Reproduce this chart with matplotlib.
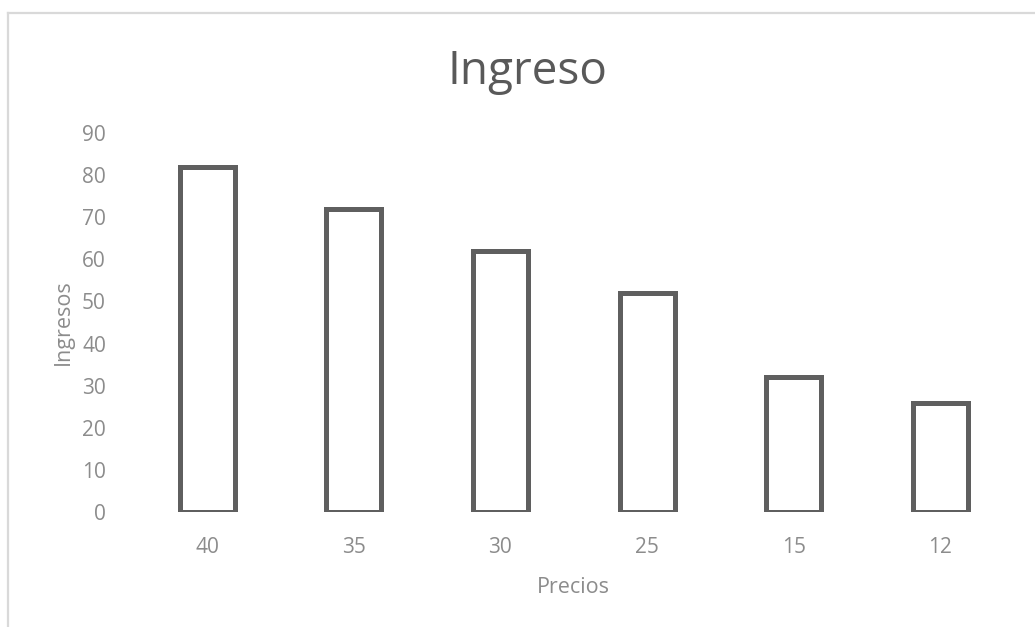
import matplotlib
matplotlib.use("Agg")
import matplotlib.pyplot as plt
from matplotlib.lines import Line2D

plt.rcParams['font.family'] = ['Open Sans', 'DejaVu Sans']

precios = ["40", "35", "30", "25", "15", "12"]
ingresos = [82, 72, 62, 52, 32, 26]
y_ticks = [0, 10, 20, 30, 40, 50, 60, 70, 80, 90]

W, H = 1035, 627
fig = plt.figure(figsize=(W / 100, H / 100), dpi=100)
fig.patch.set_facecolor("white")

# outer chart-area frame (top and left edges)
fig.add_artist(Line2D([8 / W, 8 / W], [0, 1 - 13 / H], transform=fig.transFigure,
                      color="#d9d9d9", lw=1.6, solid_capstyle="projecting"))
fig.add_artist(Line2D([8 / W, 1.0], [1 - 13 / H, 1 - 13 / H], transform=fig.transFigure,
                      color="#d9d9d9", lw=1.6, solid_capstyle="projecting"))

left, right = 133.7 / W, 1013.7 / W
bottom, top = (H - 512) / H, (H - 133) / H
ax = fig.add_axes([left, bottom, right - left, top - bottom])

x = range(len(precios))
ax.bar(x, ingresos, width=0.375, facecolor="white", edgecolor="#5f5f5f",
       linewidth=3.6, joinstyle="miter")

ax.set_xlim(-0.5, len(precios) - 0.5)
ax.set_ylim(0, 90)
ax.set_yticks(y_ticks)
ax.set_xticks(list(x))
ax.set_xticklabels(precios)
for s in ax.spines.values():
    s.set_visible(False)
ax.tick_params(axis="both", length=0, labelsize=15, labelcolor="#8c8c8c")
ax.tick_params(axis="y", pad=20)
ax.tick_params(axis="x", pad=18)

ax.set_xlabel("Precios", fontsize=15.5, color="#8c8c8c", labelpad=14)
ax.set_ylabel("Ingresos", fontsize=15.5, color="#8c8c8c", labelpad=6)

fig.text(527 / W, 1 - 72 / H, "Ingreso", ha="center", va="center",
         fontsize=33, color="#595959")

fig.savefig("out.png", dpi=100, facecolor="white")
